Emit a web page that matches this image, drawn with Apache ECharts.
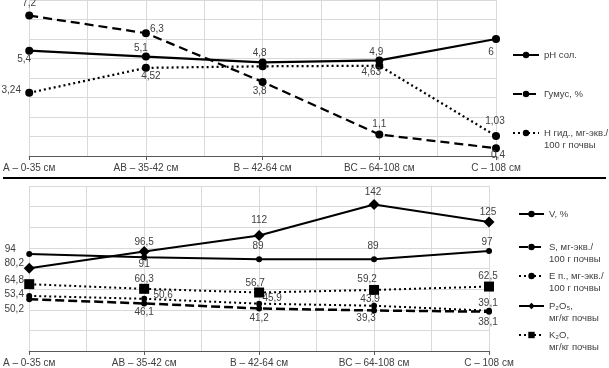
<!DOCTYPE html>
<html>
<head>
<meta charset="utf-8">
<script src="https://cdn.jsdelivr.net/npm/echarts@6/dist/echarts.min.js"></script>
<style>html,body{margin:0;padding:0;background:#fff}#c{width:609px;height:368px}</style>
</head>
<body>
<div id="c"></div>
<script>
// ---- data ----
const categories = ['А – 0-35 см', 'АВ – 35-42 см', 'В – 42-64 см', 'ВС – 64-108 см', 'С – 108 см'];
// top panel
const ph = [5.4, 5.1, 4.8, 4.9, 6];
const humus = [7.2, 6.3, 3.8, 1.1, 0.4];
const hgid = [3.24, 4.52, 4.6, 4.63, 1.03];
// bottom panel
const vPct = [94, 91, 89, 89, 97];
const sVal = [50.2, 46.1, 41.2, 39.3, 38.1];
const ePVal = [53.4, 50.6, 45.9, 43.9, 39.1];
const p2o5 = [80.2, 96.5, 112, 142, 125];
const k2o = [64.8, 60.3, 56.7, 59.2, 62.5];
const topTicks = {min: 0, max: 8, interval: 1};
const bottomTicks = {min: 0, max: 160, interval: 20};

// ---- label offsets (style) ----
const offPh = [[-5, 9], [-5, -8], [-3, -9], [-3, -8], [-5, 13]];
const offHum = [[0, -12], [11, -4], [-3, 9], [0, -10], [2, 7]];
const offHg = [[-18, -3], [5, 8], null, [-8, 7], [-1, -15]];
const offV = [[-19, -5], [0, 7], [-1, -13], [-1, -13], [-2, -9]];
const offP = [[-15, -5], [0, -9], [0, -15], [-1, -12], [-1, -10]];
const offK = [[-15, -4], [0, -10], [-4, -9], [-7, -11], [-1, -10]];
const offE = [[-15, -2], [19, -4], [13, -5], [-4, -6], [-1, -7]];
const offS = [[-15, 10], [0, 9], [0, 10], [-8, 8], [-1, 11]];

const FONT = "'Liberation Sans', Arial, sans-serif";
const TXT = '#404040';
const GRID = '#d9d9d9';

function fmt(v) { return String(v).replace('.', ','); }
function mk(vals, offs) {
  return vals.map((v, i) => {
    const o = offs[i];
    if (!o) return {value: v, label: {show: false}};
    return {value: v, label: {show: true, position: 'inside', offset: o}};
  });
}
const lbl = {show: true, color: TXT, fontFamily: FONT, fontSize: 10, formatter: p => fmt(p.value)};

function catAxis(g) {
  return {
    type: 'category', gridIndex: g, data: categories, boundaryGap: false,
    axisLine: {show: true, lineStyle: {color: '#595959', width: 1}},
    axisTick: {show: true, length: 4, lineStyle: {color: '#595959'}},
    axisLabel: {color: TXT, fontFamily: FONT, fontSize: 10, margin: 7, interval: 0},
    splitLine: {show: false}
  };
}
function vGridAxis(g) {
  return {
    type: 'value', gridIndex: g, min: 0, max: 8, interval: 1, position: 'top',
    axisLine: {show: false}, axisTick: {show: false}, axisLabel: {show: false},
    splitLine: {show: true, lineStyle: {color: GRID, width: 1}}
  };
}
function valAxis(g, t) {
  return {
    type: 'value', gridIndex: g, min: t.min, max: t.max, interval: t.interval,
    axisLine: {show: false}, axisTick: {show: false}, axisLabel: {show: false},
    splitLine: {show: true, lineStyle: {color: GRID, width: 1}}
  };
}
function ser(name, vals, offs, x, y, symbol, size, lineType, width) {
  return {
    name, type: 'line', xAxisIndex: x, yAxisIndex: y, data: mk(vals, offs),
    symbol, symbolSize: size, showSymbol: true, animation: false,
    itemStyle: {color: '#000'},
    lineStyle: {color: '#000', width, type: lineType, cap: 'butt'},
    label: lbl, z: 3
  };
}

const nameH = 'Н гид., мг-экв./\n100 г почвы';
const nameS = 'S, мг-экв./\n100 г почвы';
const nameE = 'Е п., мг-экв./\n100 г почвы';
const nameP = 'P₂O₅,\nмг/кг почвы';
const nameK = 'K₂O,\nмг/кг почвы';

function leg(name, left, yc, two, w) {
  return {
    data: [name], left, top: two ? yc - 18 : yc - 6, orient: 'vertical',
    itemWidth: w, itemHeight: 8, selectedMode: false, padding: 0,
    formatter: two ? (n => '\n' + n) : undefined,
    textStyle: {color: TXT, fontFamily: FONT, fontSize: 9.5, lineHeight: 12}
  };
}

const option = {
  animation: false,
  grid: [
    {left: 29, right: 113, top: 0, height: 156},
    {left: 29, right: 120, top: 186, height: 165}
  ],
  xAxis: [catAxis(0), catAxis(1), vGridAxis(0), vGridAxis(1)],
  yAxis: [valAxis(0, topTicks), valAxis(1, bottomTicks)],
  legend: [
    leg('pH сол.', 512, 55, false, 26),
    leg('Гумус, %', 512, 94, false, 26),
    leg(nameH, 512, 133, true, 26),
    leg('V, %', 518, 214, false, 25),
    leg(nameS, 518, 247, true, 25),
    leg(nameE, 518, 276, true, 25),
    leg(nameP, 518, 306, true, 25),
    leg(nameK, 518, 335, true, 25)
  ],
  series: [
    ser('pH сол.', ph, offPh, 0, 0, 'circle', 8, 'solid', 2.25),
    ser('Гумус, %', humus, offHum, 0, 0, 'circle', 8, [9, 5], 2.25),
    ser(nameH, hgid, offHg, 0, 0, 'circle', 8, [2, 3], 2.25),
    ser('V, %', vPct, offV, 1, 1, 'circle', 6, 'solid', 2),
    ser(nameS, sVal, offS, 1, 1, 'circle', 6, [9, 4], 2.5),
    ser(nameE, ePVal, offE, 1, 1, 'circle', 6, [2, 3], 2),
    ser(nameP, p2o5, offP, 1, 1, 'diamond', 11, 'solid', 2),
    ser(nameK, k2o, offK, 1, 1, 'rect', 10, [2, 3], 2)
  ],
  graphic: [
    {type: 'line', shape: {x1: 3, y1: 178, x2: 606, y2: 178}, style: {stroke: '#000', lineWidth: 2}, z: 10}
  ]
};
const chart = echarts.init(document.getElementById('c'), null, {renderer: 'canvas'});
chart.setOption(option);
</script>
</body>
</html>
